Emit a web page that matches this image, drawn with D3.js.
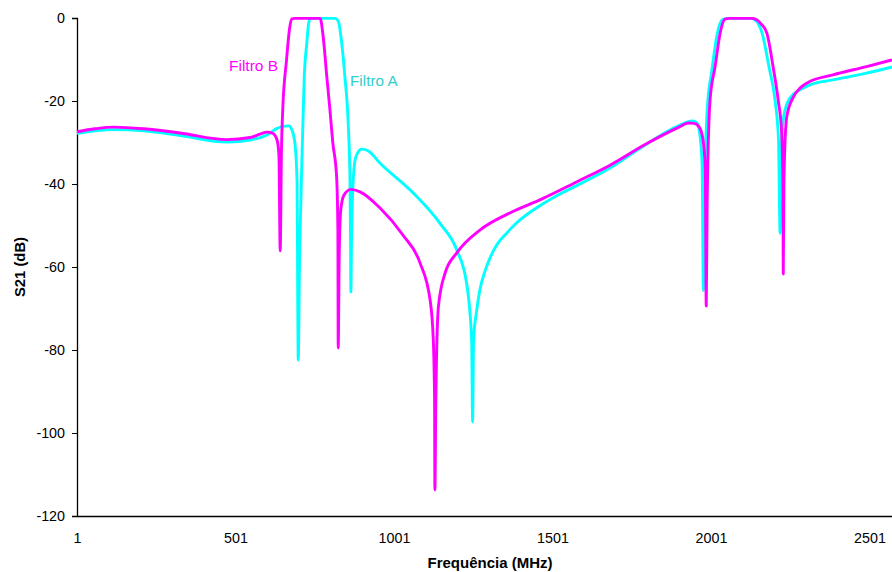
<!DOCTYPE html>
<html>
<head>
<meta charset="utf-8">
<script src="https://cdn.jsdelivr.net/npm/d3@7"></script>
<style>
  html, body { margin: 0; padding: 0; background: #fff; }
  svg { display: block; font-family: "Liberation Sans", Arial, sans-serif; }
</style>
</head>
<body>
<svg id="chart" width="892" height="572"></svg>
<script>
// Frequency (MHz) and S21 (dB) values
const filtroA_freq = [1,58,118,212,326,474,547,600,632,650,669,679,689,695,699,703,704,712,718,726,731,736,752,815,825,836,846,857,862,864,865,867,873,881,899,919,957,1062,1146,1199,1230,1246,1249,1252,1262,1272,1288,1304,1326,1357,1383,1430,1468,1520,1577,1684,1793,1900,1943,1957,1966,1973,1977,1981,1989,2004,2020,2036,2052,2124,2140,2162,2184,2203,2214,2219,2224,2231,2250,2282,2313,2386,2492,2572];
const filtroA_db = [-27.8,-27.2,-26.9,-27.2,-28.3,-29.9,-29.4,-28.2,-26.6,-26.1,-26.0,-27.0,-30.6,-39.0,-82.4,-58.3,-54.2,-30.1,-14.1,-6.0,-1.7,-0.2,-0.1,-0.1,-0.7,-6.0,-14.1,-26.2,-38.2,-53.5,-66.0,-53.5,-38.2,-33.4,-31.6,-32.0,-35.0,-42.2,-49.5,-55.9,-63.9,-77.6,-97.3,-77.6,-70.4,-65.5,-61.0,-57.8,-54.6,-51.8,-49.7,-46.8,-44.9,-42.6,-40.4,-36.1,-30.6,-25.9,-24.8,-25.3,-28.2,-35.4,-65.7,-41.4,-22.2,-12.5,-4.1,-0.5,-0.1,-0.1,-0.5,-3.6,-11.8,-19.8,-29.4,-51.9,-29.4,-23.4,-19.3,-17.3,-16.1,-14.9,-13.3,-11.8];

const filtroB_freq = [1,58,118,212,326,474,547,578,600,619,632,638,642,646,650,662,671,678,688,768,777,789,799,808,820,824,825,828,833,843,865,894,957,1029,1083,1115,1125,1129,1130,1133,1141,1162,1199,1272,1360,1468,1577,1684,1793,1900,1929,1948,1964,1976,1983,1986,1989,1998,2014,2030,2045,2061,2130,2145,2159,2177,2197,2213,2224,2228,2229,2231,2240,2261,2282,2303,2386,2492,2572];
const filtroB_db = [-27.4,-26.7,-26.3,-26.7,-27.7,-29.3,-28.8,-28.0,-27.5,-27.8,-29.4,-33.0,-56.1,-31.8,-22.2,-10.1,-2.9,-0.2,-0.1,-0.1,-4.1,-14.1,-22.2,-30.1,-38.3,-51.0,-79.5,-58.0,-46.3,-42.7,-41.3,-41.9,-45.8,-52.3,-59.0,-68.0,-77.6,-92.0,-113.7,-92.0,-69.6,-61.5,-56.6,-51.1,-47.2,-43.6,-39.5,-35.4,-30.5,-26.3,-25.3,-25.4,-26.3,-29.4,-36.6,-69.4,-43.9,-19.8,-11.7,-3.6,-0.3,-0.1,-0.1,-0.4,-1.4,-3.6,-11.8,-19.8,-27.7,-39.0,-61.7,-39.0,-23.8,-19.0,-16.9,-15.7,-13.7,-11.7,-10.1];

const xTicks = [1, 501, 1001, 1501, 2001, 2501];
const yTicks = [0, -20, -40, -60, -80, -100, -120];
const seriesNames = ["Filtro A", "Filtro B"];
const xTitle = "Frequência (MHz)";
const yTitle = "S21 (dB)";

(function () {
const svg = d3.select("#chart");
const mLeft = 77, mRight = 892, mTop = 18, mBottom = 516;
const font = "Liberation Sans, Arial, sans-serif";

const x = d3.scaleLinear().domain([1, 2572]).range([mLeft, mRight]);
const y = d3.scaleLinear().domain([-120, 0]).range([mBottom, mTop]);

// Y axis
const yAxis = d3.axisLeft(y).tickValues(yTicks).tickSize(5).tickPadding(7).tickFormat(d => String(d));
const gy = svg.append("g").attr("transform", `translate(${mLeft},0)`).call(yAxis);
gy.select(".domain").attr("stroke", "#000").attr("stroke-width", 1.3);
gy.selectAll(".tick line").attr("stroke", "#000").attr("stroke-width", 1);
gy.selectAll(".tick text").attr("font-size", 14.3).attr("fill", "#000").attr("font-family", font);

// X axis
const xAxis = d3.axisBottom(x).tickValues(xTicks).tickSize(0).tickPadding(17).tickFormat(d => String(d));
const gx = svg.append("g").attr("transform", `translate(0,${mBottom})`).call(xAxis);
gx.select(".domain").attr("stroke", "#000").attr("stroke-width", 1.3);
gx.selectAll(".tick text").attr("font-size", 14.3).attr("fill", "#000").attr("font-family", font);

// Lines
const line = d3.line().x(d => x(d[0])).y(d => y(d[1])).curve(d3.curveMonotoneX);
const dataA = filtroA_freq.map((f, i) => [f, filtroA_db[i]]);
const dataB = filtroB_freq.map((f, i) => [f, filtroB_db[i]]);

svg.append("path").datum(dataA).attr("d", line)
  .attr("fill", "none").attr("stroke", "#00FFFF").attr("stroke-width", 2.9).attr("stroke-linejoin", "round");
svg.append("path").datum(dataB).attr("d", line)
  .attr("fill", "none").attr("stroke", "#FF00FF").attr("stroke-width", 2.9).attr("stroke-linejoin", "round");

// Series labels
svg.append("text").attr("x", 229).attr("y", 71).attr("font-size", 15.5).attr("fill", "#FF00FF")
  .attr("font-family", font).text(seriesNames[1]);
svg.append("text").attr("x", 350).attr("y", 86).attr("font-size", 15.3).attr("fill", "#33CCCC")
  .attr("font-family", font).text(seriesNames[0]);

// Axis titles
svg.append("text").attr("x", 490).attr("y", 568).attr("text-anchor", "middle").attr("font-family", font)
  .attr("font-size", 15).attr("font-weight", "bold").text(xTitle);
svg.append("text").attr("transform", "translate(25,267) rotate(-90)").attr("text-anchor", "middle").attr("font-family", font)
  .attr("font-size", 14.8).attr("font-weight", "bold").text(yTitle);
})();
</script>
</body>
</html>
